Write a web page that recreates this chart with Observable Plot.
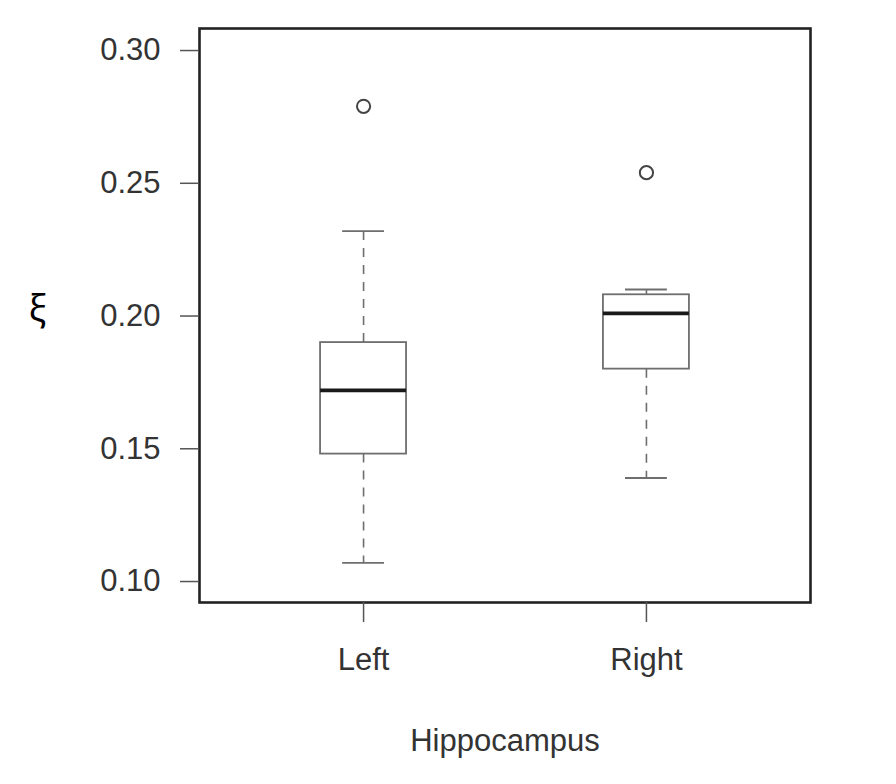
<!DOCTYPE html>
<html>
<head>
<meta charset="utf-8">
<script src="https://cdn.jsdelivr.net/npm/d3@7"></script>
<script src="https://cdn.jsdelivr.net/npm/@observablehq/plot@0.6"></script>
<style>
  html, body { margin: 0; padding: 0; background: #fff; }
</style>
</head>
<body>
<div id="chart"></div>
<script>
const categories = ["Left", "Right"];
const lowerWhisker = [0.107, 0.139];
const q1 = [0.148, 0.180];
const median = [0.172, 0.201];
const q3 = [0.190, 0.208];
const upperWhisker = [0.232, 0.210];
const outliers = [0.279, 0.254];
const yTicks = [0.10, 0.15, 0.20, 0.25, 0.30];
const xLabel = "Hippocampus";
const yLabel = "ξ";

const rows = categories.map((c, k) => ({
  cat: c, pos: k + 1,
  lo: lowerWhisker[k], q1: q1[k], med: median[k], q3: q3[k], hi: upperWhisker[k], out: outliers[k]
}));

const boxHalf = 0.152;
const capHalf = 0.074;
const gray = "#6e6e6e";

const chart = Plot.plot({
  width: 896,
  height: 784,
  marginLeft: 199,
  marginRight: 86,
  marginTop: 28,
  marginBottom: 182,
  style: { fontFamily: "'Liberation Sans', Arial, sans-serif", color: "#333", background: "#fff" },
  x: { type: "linear", domain: [0.42, 2.58] },
  y: { domain: [0.0921, 0.3083] },
  marks: [
    Plot.ruleX(rows, { x: "pos", y1: "q3", y2: "hi", stroke: gray, strokeWidth: 1.6, strokeDasharray: "9,8" }),
    Plot.ruleX(rows, { x: "pos", y1: "q1", y2: "lo", stroke: gray, strokeWidth: 1.6, strokeDasharray: "9,8" }),
    Plot.ruleY(rows, { y: "hi", x1: d => d.pos - capHalf, x2: d => d.pos + capHalf, stroke: gray, strokeWidth: 1.8 }),
    Plot.ruleY(rows, { y: "lo", x1: d => d.pos - capHalf, x2: d => d.pos + capHalf, stroke: gray, strokeWidth: 1.8 }),
    Plot.rect(rows, { x1: d => d.pos - boxHalf, x2: d => d.pos + boxHalf, y1: "q1", y2: "q3", fill: "#fff", stroke: gray, strokeWidth: 1.8 }),
    Plot.ruleY(rows, { y: "med", x1: d => d.pos - boxHalf, x2: d => d.pos + boxHalf, stroke: "#1a1a1a", strokeWidth: 3.6 }),
    Plot.dot(rows, { x: "pos", y: "out", r: 6.6, stroke: "#444", strokeWidth: 2, fill: "none" }),
    Plot.frame({ stroke: "#222", strokeWidth: 2.6 }),
    Plot.axisY({ ticks: yTicks, tickFormat: d3.format(".2f"), tickSize: 19, tickPadding: 20, fontSize: 31, stroke: "#555", strokeWidth: 1.5, label: null }),
    Plot.axisX({ ticks: [1, 2], tickFormat: d => categories[d - 1], tickSize: 20, tickPadding: 25, fontSize: 31, stroke: "#555", strokeWidth: 1.5,
      label: xLabel, labelAnchor: "center", labelArrow: "none", labelOffset: 148 }),
    Plot.text([yLabel], { text: d => d, frameAnchor: "left", dx: -153, dy: -6, fontSize: 36, fill: "#000", fontFamily: "'Noto Sans', sans-serif", textAnchor: "end" })
  ]
});
document.getElementById("chart").appendChild(chart);
</script>
</body>
</html>
